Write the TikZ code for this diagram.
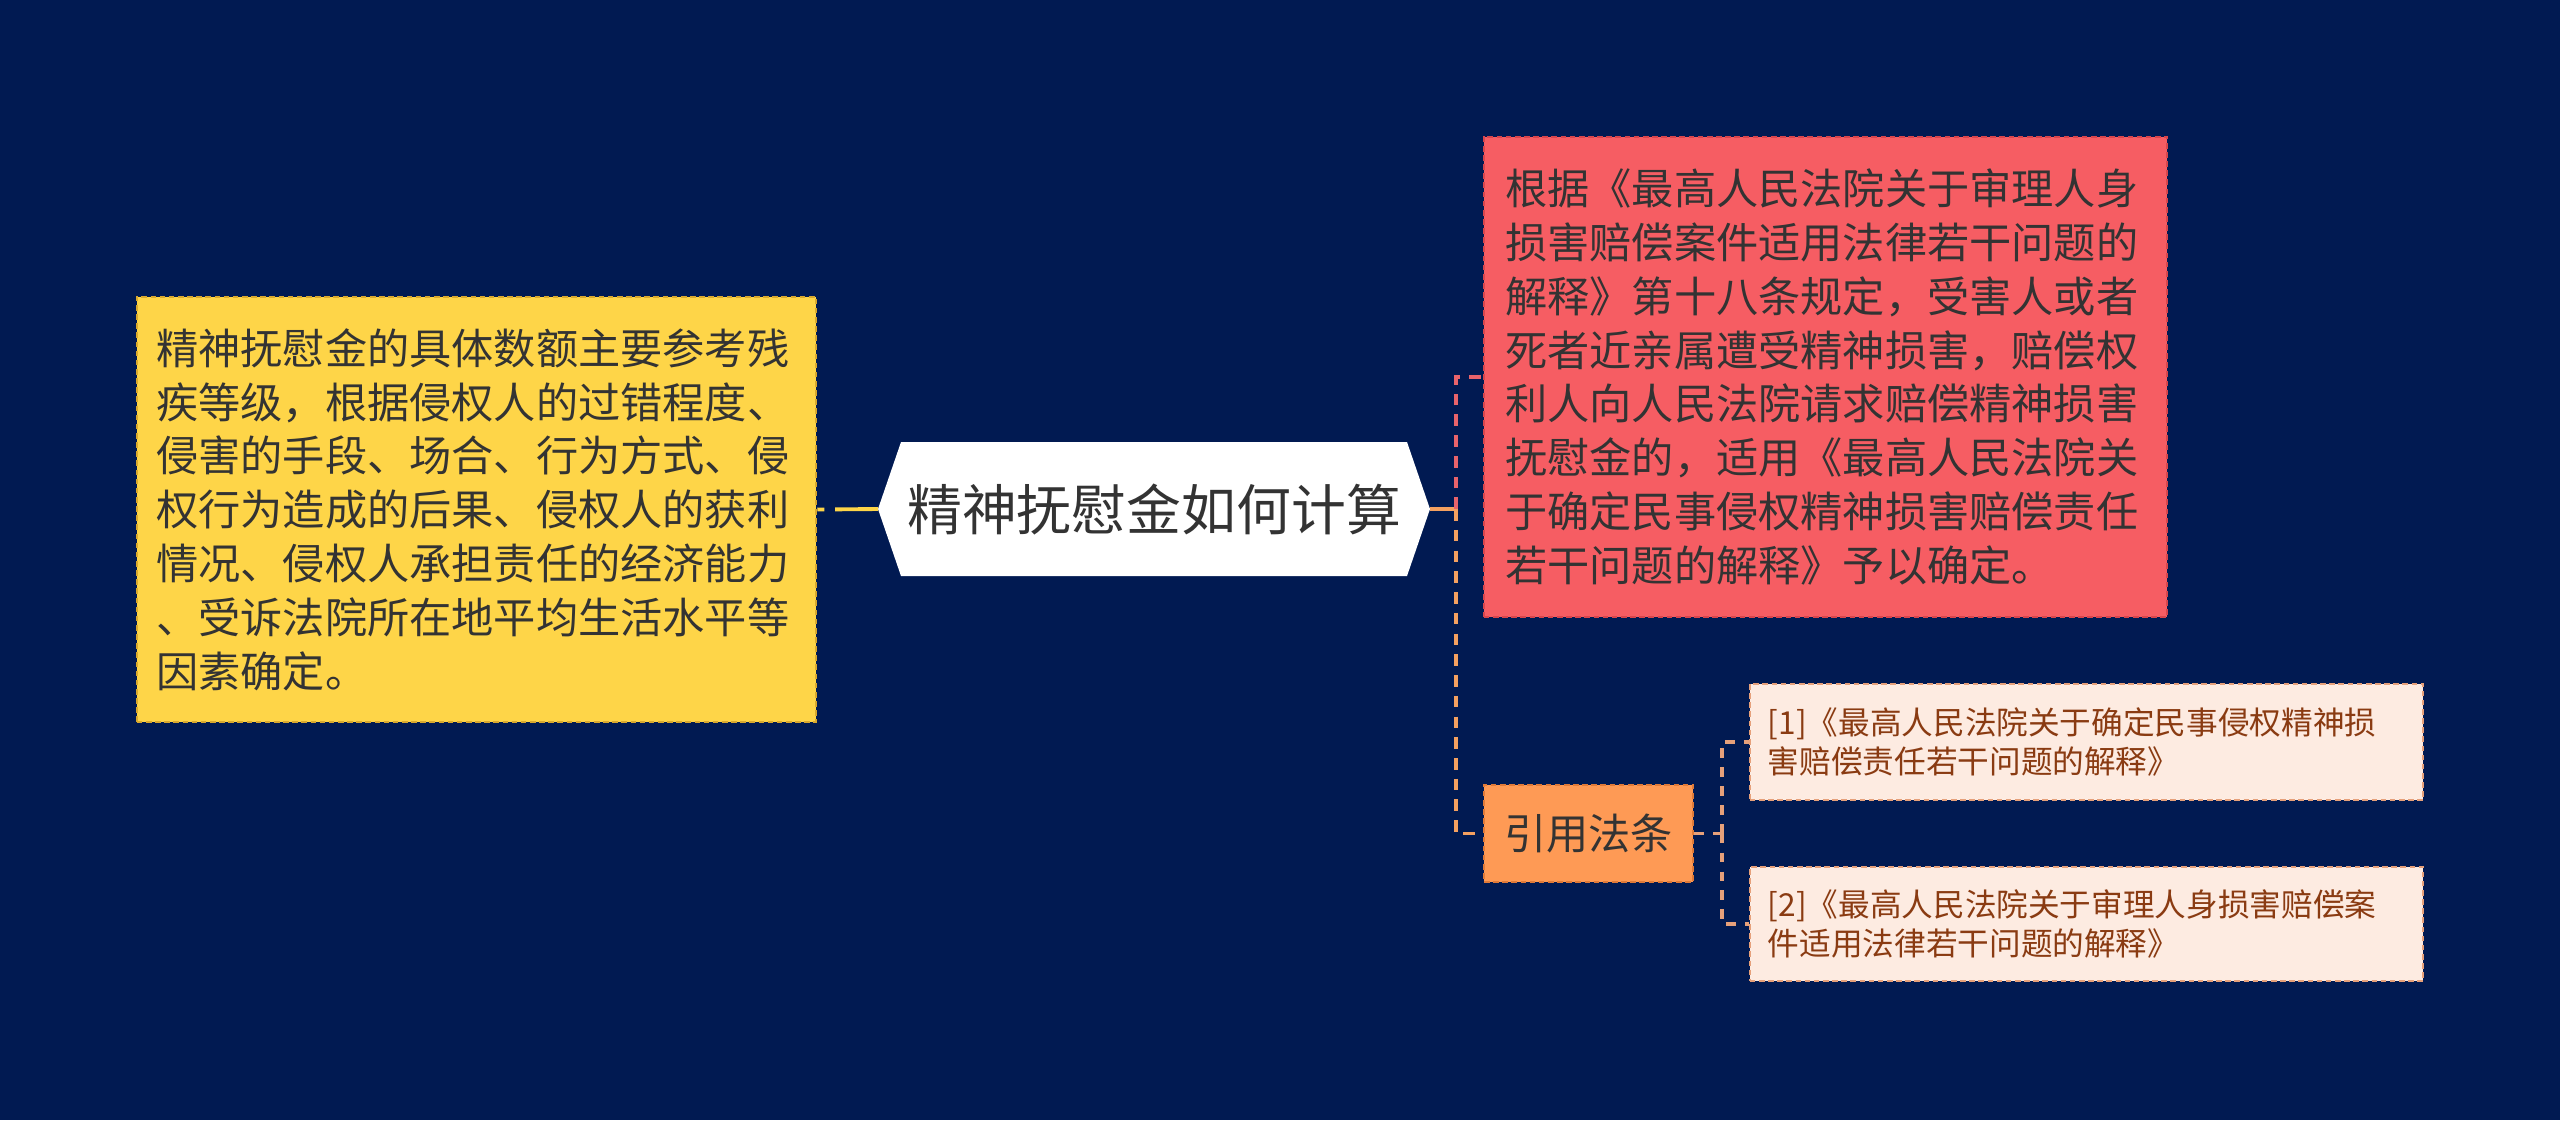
\documentclass[tikz,border=0pt]{standalone}
\usepackage{fontspec}
\setmainfont{Noto Sans CJK SC}
\definecolor{bg}{HTML}{011A52}
\definecolor{yelfill}{HTML}{FED548}
\definecolor{yelline}{HTML}{D9A92E}
\definecolor{redfill}{HTML}{F65D63}
\definecolor{redline}{HTML}{D8454C}
\definecolor{orafill}{HTML}{FE9A55}
\definecolor{oraline}{HTML}{E07A38}
\definecolor{reffill}{HTML}{FDEBE1}
\definecolor{refline}{HTML}{E6A07A}
\definecolor{reftext}{HTML}{8A3B12}
\definecolor{txt}{HTML}{333333}
\definecolor{pinkconn}{HTML}{E8636B}
\definecolor{oraconn}{HTML}{F4A060}
\begin{document}
\begin{tikzpicture}[x=0.01cm,y=-0.01cm,
  box/.style={rectangle, inner sep=0pt, align=left, dash pattern=on 1.6pt off 1pt, line width=0.6pt},
  bigtext/.style={font=\fontsize{12pt}{15.3pt}\selectfont, text=txt},
  reftxt/.style={font=\fontsize{9pt}{11.1pt}\selectfont, text=reftext},
  conn/.style={line width=1.1pt},
  dconn/.style={line width=1.1pt, dash pattern=on 3.3pt off 2.6pt},
  rconn/.style={line width=0.9pt, dash pattern=on 2.8pt off 2.6pt}
]
\fill[bg] (0,0) rectangle (2560,1120);

% central hexagon
\fill[white] (901,442) -- (1407,442) -- (1430,509) -- (1407,576) -- (901,576) -- (878,509) -- cycle;
\node[font=\fontsize{15.6pt}{18pt}\selectfont, text=txt, minimum width=5.06cm, minimum height=1.34cm, inner sep=0pt] (c) at (1154,509) {精神抚慰金如何计算};
\coordinate (cL) at (878,509);
\coordinate (cR) at (1430,509);

% left yellow box
\node[box, bigtext, fill=yelfill, draw=yelline, minimum width=6.79cm, minimum height=4.25cm, text width=6.4cm] (yel) at (476.5,509.5) {精神抚慰金的具体数额主要参考残\\疾等级，根据侵权人的过错程度、\\侵害的手段、场合、行为方式、侵\\权行为造成的后果、侵权人的获利\\情况、侵权人承担责任的经济能力\\、受诉法院所在地平均生活水平等\\因素确定。};

% right red box
\node[box, bigtext, fill=redfill, draw=redline, minimum width=6.83cm, minimum height=4.80cm, text width=6.4cm] (red) at (1825.5,377) {根据《最高人民法院关于审理人身\\损害赔偿案件适用法律若干问题的\\解释》第十八条规定，受害人或者\\死者近亲属遭受精神损害，赔偿权\\利人向人民法院请求赔偿精神损害\\抚慰金的，适用《最高人民法院关\\于确定民事侵权精神损害赔偿责任\\若干问题的解释》予以确定。};

% citation node
\node[box, bigtext, fill=orafill, draw=oraline, minimum width=2.09cm, minimum height=0.97cm, align=center] (cite) at (1588.5,833.5) {引用法条};

% reference boxes
\node[box, reftxt, fill=reffill, draw=refline, minimum width=6.73cm, minimum height=1.16cm, text width=6.37cm] (ref1) at (2086.5,742) {[1]《最高人民法院关于确定民事侵权精神损\\害赔偿责任若干问题的解释》};
\node[box, reftxt, fill=reffill, draw=refline, minimum width=6.73cm, minimum height=1.14cm, text width=6.37cm] (ref2) at (2086.5,924) {[2]《最高人民法院关于审理人身损害赔偿案\\件适用法律若干问题的解释》};

% connectors
\draw[conn, yelfill, dash pattern=on 2pt off 3.1pt on 14pt] (yel.east) -- (cL);
\coordinate (j1) at (1456,509);
\draw[conn, oraconn] (cR) -- (j1);
\draw[dconn, pinkconn] (j1) |- (red.west);
\draw[dconn, oraconn] (j1) |- (cite.west);
\coordinate (j2) at (1722,833.5);
\draw[rconn, refline] (cite.east) -- (j2);
\draw[rconn, refline] (j2) |- (ref1.west);
\draw[rconn, refline] (j2) |- (ref2.west);
\end{tikzpicture}
\end{document}
